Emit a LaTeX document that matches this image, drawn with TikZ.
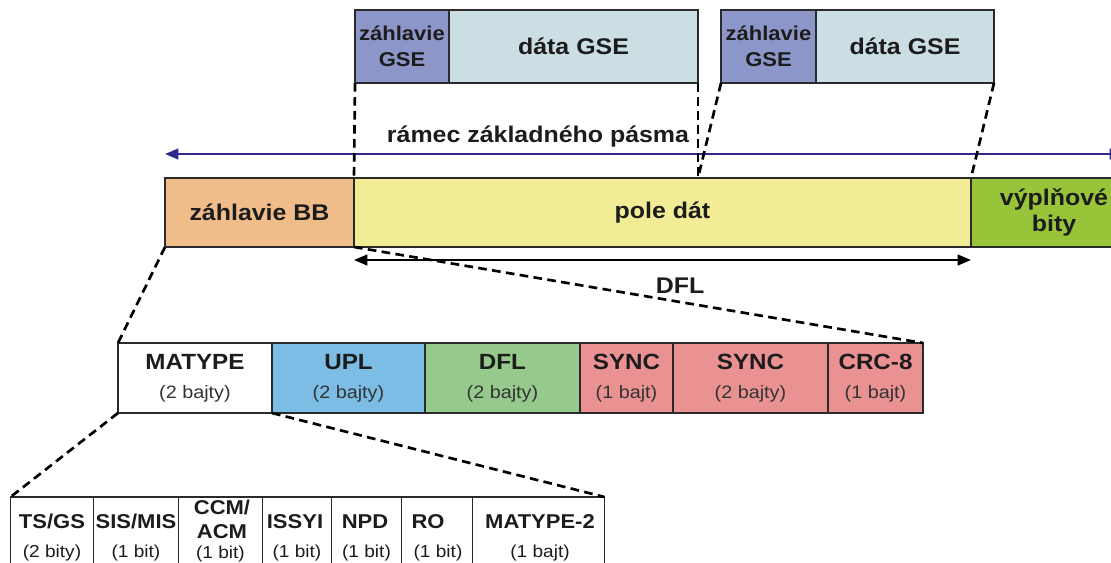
\documentclass[tikz,border=0pt]{standalone}
\usepackage{fontspec}
\setmainfont{Liberation Sans}[FakeStretch=1.1]
\usetikzlibrary{arrows.meta}

\definecolor{edge}{HTML}{2A2A2A}
\definecolor{ink}{HTML}{1C1C1C}
\definecolor{subink}{HTML}{333333}
\definecolor{bbhead}{HTML}{F0BD8A}
\definecolor{datafield}{HTML}{F2EC96}
\definecolor{padding}{HTML}{98C43A}
\definecolor{gsehead}{HTML}{8C96C8}
\definecolor{gsedata}{HTML}{CBDEE4}
\definecolor{upl}{HTML}{7BBDE4}
\definecolor{dfl}{HTML}{96CA8C}
\definecolor{sync}{HTML}{EA9292}
\definecolor{frame}{HTML}{30288C}

\newcommand\bigfont{\bfseries\fontsize{17}{19}\selectfont}
\newcommand\gsefont{\bfseries\fontsize{15}{19.5}\selectfont}
\newcommand\midfont{\bfseries\fontsize{16.5}{21.5}\selectfont}
\newcommand\midsub{\mdseries\fontsize{13.5}{21.5}\selectfont\color{subink}}
\newcommand\lowfont{\bfseries\fontsize{15}{19.5}\selectfont}
\newcommand\lowsub{\mdseries\fontsize{13}{19.5}\selectfont\color{subink}}

\begin{document}
\begin{tikzpicture}[x=0.75pt,y=-0.75pt,
  field/.style 2 args={draw=edge, line width=1.4pt, inner sep=0pt, outer sep=0pt,
    minimum width=#1*0.75pt, minimum height=#2*0.75pt, align=center, text=ink},
  twoline/.style={font=\midfont},
  split/.style={draw=black, line width=2pt, dash pattern=on 6.5pt off 4pt},
  span/.style={line width=1.6pt, {Triangle[length=10pt,width=8pt]}-{Triangle[length=10pt,width=8pt]}},
  caption/.style={text=ink, inner sep=0pt},
  lowtitle/.style={caption, font=\lowfont, anchor=base},
  lowsubtitle/.style={caption, font=\lowsub, anchor=base}]

\clip (0,0) rectangle (1111,562);

% GSE packets
\node[field={94}{73}, fill=gsehead, font=\gsefont] (g1h) at (402,46.5) {záhlavie\\GSE};
\node[field={249}{73}, fill=gsedata, font=\bigfont] (g1d) at (573.5,46.5) {dáta GSE};
\node[field={95}{73}, fill=gsehead, font=\gsefont] (g2h) at (768.5,46.5) {záhlavie\\GSE};
\node[field={178}{73}, fill=gsedata, font=\bigfont] (g2d) at (905,46.5) {dáta GSE};

% baseband frame
\node[field={189}{69}, fill=bbhead, font=\bigfont] (bbh) at (259.5,212.5) {záhlavie BB};
\node[field={617}{69}, fill=datafield, font=\bigfont] (pole) at (662.5,212.5) {pole dát};
\node[field={166}{69}, fill=padding, font=\bigfont] (pad) at (1054,212.5) {výplňové\\bity};

\coordinate (split) at (698,178);

% frame extent
\coordinate (frameL) at (165,154);
\coordinate (frameR) at (1123,154);
\draw[span, draw=frame, fill=frame] (frameL) -- (frameR);
\node[caption, font=\bigfont] (ramec) at (538,137) {rámec základného pásma};

% data field length
\path (pole.south west) ++(0,13) coordinate (dflL)
      (pole.south east) ++(0,13) coordinate (dflR);
\draw[span, draw=black, fill=black] (dflL) -- (dflR);
\node[caption, font=\bigfont] (dfllabel) at (680,286) {DFL};

% BB header fields
\node[field={154}{70}, fill=white, twoline] (matype) at (195,378)
  {MATYPE\\{\midsub (2 bajty)}};
\node[field={153}{70}, fill=upl, twoline] (upl) at (348.5,378)
  {UPL\\{\midsub (2 bajty)}};
\node[field={155}{70}, fill=dfl, twoline] (dflf) at (502.5,378)
  {DFL\\{\midsub (2 bajty)}};
\node[field={93}{70}, fill=sync, twoline] (sync1) at (626.5,378)
  {SYNC\\{\midsub (1 bajt)}};
\node[field={155}{70}, fill=sync, twoline] (sync2) at (750.5,378)
  {SYNC\\{\midsub (2 bajty)}};
\node[field={95}{70}, fill=sync, twoline] (crc) at (875.5,378)
  {CRC-8\\{\midsub (1 bajt)}};

% MATYPE bit fields
\node[field={83}{80}] (tsgs) at (52,537) {};
\node[field={85}{80}] (sismis) at (136,537) {};
\node[field={84}{80}] (ccm) at (220.5,537) {};
\node[field={69}{80}] (issyi) at (297,537) {};
\node[field={70}{80}] (npd) at (366.5,537) {};
\node[field={71}{80}] (ro) at (437,537) {};
\node[field={132}{80}] (mat2) at (538.5,537) {};

\node[lowtitle] (tsgs-t) at (52,528) {TS/GS};
\node[lowsubtitle] (tsgs-s) at (52,557) {(2 bity)};
\node[lowtitle] (sismis-t) at (136,528) {SIS/MIS};
\node[lowsubtitle] (sismis-s) at (136,557) {(1 bit)};
\node[lowtitle] (ccm-t1) at (222,514) {CCM/};
\node[lowtitle] (ccm-t2) at (222,538) {ACM};
\node[lowsubtitle] (ccm-s) at (220.5,558) {(1 bit)};
\node[lowtitle] (issyi-t) at (295,528) {ISSYI};
\node[lowsubtitle] (issyi-s) at (297,557) {(1 bit)};
\node[lowtitle] (npd-t) at (365,528) {NPD};
\node[lowsubtitle] (npd-s) at (366.5,557) {(1 bit)};
\node[lowtitle] (ro-t) at (428,528) {RO};
\node[lowsubtitle] (ro-s) at (438,557) {(1 bit)};
\node[lowtitle] (mat2-t) at (540,528) {MATYPE-2};
\node[lowsubtitle] (mat2-s) at (540,557) {(1 bajt)};

% zoom lines
\draw[split] (g1h.south west) -- (pole.north west);
\draw[split] (g1d.south east) -- (split);
\draw[split] (g2h.south west) -- (split);
\draw[split] (g2d.south east) -- (pole.north east);
\draw[split] (bbh.south west) -- (matype.north west);
\draw[split] (bbh.south east) -- (crc.north east);
\draw[split] (matype.south west) -- (tsgs.north west);
\draw[split] (matype.south east) -- (mat2.north east);
\end{tikzpicture}
\end{document}
